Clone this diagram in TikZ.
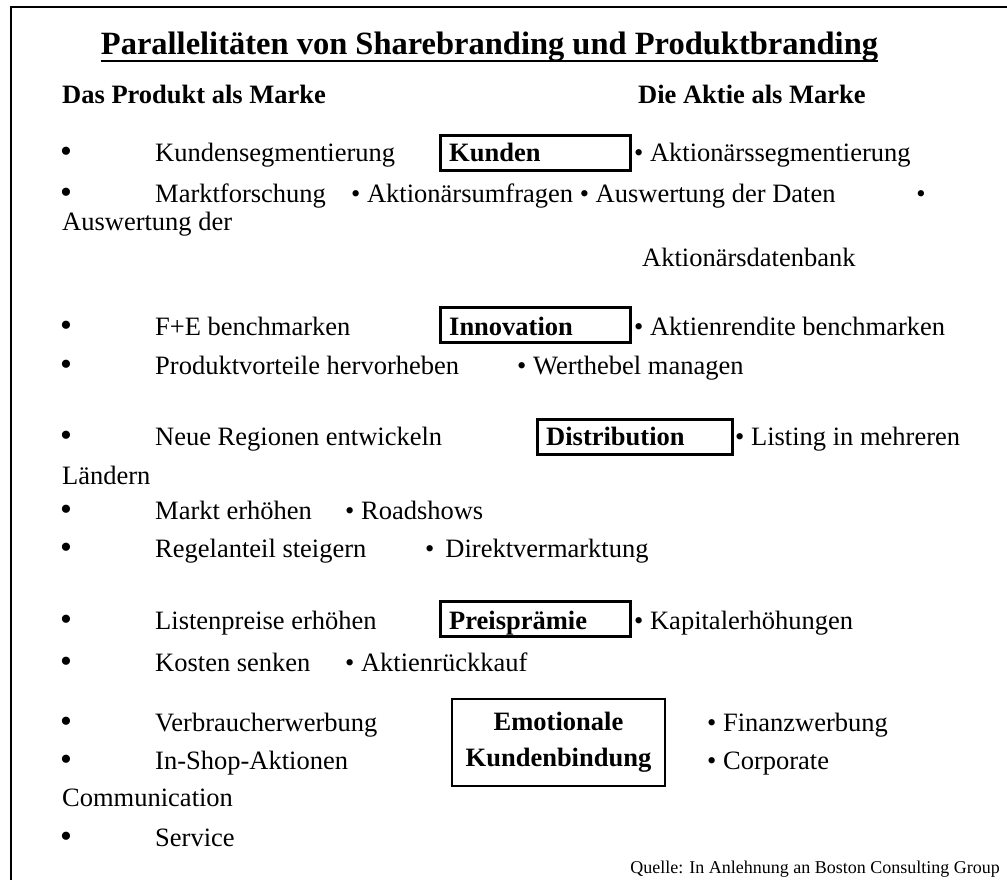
\documentclass[tikz,border=0pt]{standalone}
\usepackage{fontspec}
\setmainfont{Liberation Serif}
\tikzset{
  txt/.style={anchor=base west, inner sep=0pt, font=\fontsize{26.5}{31}\selectfont},
  bul/.style={anchor=base, inner sep=0pt, yshift=-1pt, font=\fontsize{34}{36}\selectfont},
  hd/.style={anchor=base west, inner sep=0pt, font=\fontsize{26.5}{31}\selectfont\bfseries},
  src/.style={anchor=base east, inner sep=0pt, font=\fontsize{18}{21}\selectfont},
  catbox/.style={draw, line width=2.6pt, anchor=west, inner sep=0pt, minimum width=190pt, minimum height=35pt},
  bigbox/.style={draw, line width=2.2pt, anchor=center, minimum width=213pt, minimum height=87pt, inner sep=0pt,
    align=center, font=\fontsize{26.5}{36}\selectfont\bfseries},
  frame/.style={line width=2.5pt},
}
\begin{document}
\begin{tikzpicture}[x=1pt, y=-1pt]
\useasboundingbox (0,0) rectangle (1007,880);
\draw[frame] (1007,7) -- (11,7) -- (11,880);

% title
\node[anchor=base, inner sep=0pt, font=\fontsize{32.5}{36}\selectfont\bfseries] (title) at (489.5,55)
  {Parallelitäten von Sharebranding und Produktbranding};
\draw[line width=2.5pt] ([yshift=-6pt]title.base west) -- ([yshift=-6pt]title.base east);

% headings
\node[hd] (hl) at (62,104) {Das Produkt als Marke};
\node[hd] (hr) at (638,104) {Die Aktie als Marke};

% Kunden
\node[bul] (b1) at (66,162) {•};
\node[txt] (l1) at (155,162) {Kundensegmentierung};
\node[catbox] (kunden) at (439,153) {};
\node[hd] (kundenT) at (449,162) {Kunden};
\node[txt] (r1) at (634,162) {• Aktionärssegmentierung};
\node[bul] (b2) at (66,203) {•};
\node[txt] (l2) at (155,203) {Marktforschung};
\node[txt] (m2) at (351,203) {• Aktionärsumfragen • Auswertung der Daten};
\node[txt, anchor=base] (b2r) at (921,203) {•};
\node[txt] (l3) at (62,230) {Auswertung der};
\node[txt] (r4) at (642,266) {Aktionärsdatenbank};

% Innovation
\node[bul] (b5) at (66,335) {•};
\node[txt] (l5) at (155,335) {F+E benchmarken};
\node[catbox] (innov) at (439,325) {};
\node[hd] (innovT) at (449,335) {Innovation};
\node[txt] (r5) at (634,335) {• Aktienrendite benchmarken};
\node[bul] (b6) at (66,374) {•};
\node[txt] (l6) at (155,374) {Produktvorteile hervorheben};
\node[txt] (r6) at (517,374) {• Werthebel managen};

% Distribution
\node[bul] (b7) at (66,445) {•};
\node[txt] (l7) at (155,445) {Neue Regionen entwickeln};
\node[catbox, minimum width=195pt] (distr) at (536,437) {};
\node[hd] (distrT) at (546,445) {Distribution};
\node[txt] (r7) at (735,445) {• Listing in mehreren};
\node[txt] (l8) at (62,484) {Ländern};
\node[bul] (b9) at (66,519) {•};
\node[txt] (l9) at (155,519) {Markt erhöhen};
\node[txt] (r9) at (345,519) {• Roadshows};
\node[bul] (b10) at (66,557) {•};
\node[txt] (l10) at (155,557) {Regelanteil steigern};
\node[txt] (r10) at (425,557) {•\hspace{11pt}Direktvermarktung};

% Preisprämie
\node[bul] (b11) at (66,629) {•};
\node[txt] (l11) at (155,629) {Listenpreise erhöhen};
\node[catbox] (preis) at (439,619) {};
\node[hd] (preisT) at (449,629) {Preisprämie};
\node[txt] (r11) at (634,629) {• Kapitalerhöhungen};
\node[bul] (b12) at (66,671) {•};
\node[txt] (l12) at (155,671) {Kosten senken};
\node[txt] (r12) at (345,671) {• Aktienrückkauf};

% Emotionale Kundenbindung
\node[bigbox] (emo) at (558.5,742.5) {Emotionale\\Kundenbindung};
\node[bul] (b13) at (66,731) {•};
\node[txt] (l13) at (155,731) {Verbraucherwerbung};
\node[txt] (r13) at (707,731) {• Finanzwerbung};
\node[bul] (b14) at (66,769) {•};
\node[txt] (l14) at (155,769) {In-Shop-Aktionen};
\node[txt] (r14) at (707,769) {• Corporate};
\node[txt] (l15) at (62,806) {Communication};
\node[bul] (b16) at (66,846) {•};
\node[txt] (l16) at (155,846) {Service};

\node[src] (quelle) at (1000,873) {Quelle: In Anlehnung an Boston Consulting Group};
\end{tikzpicture}
\end{document}
